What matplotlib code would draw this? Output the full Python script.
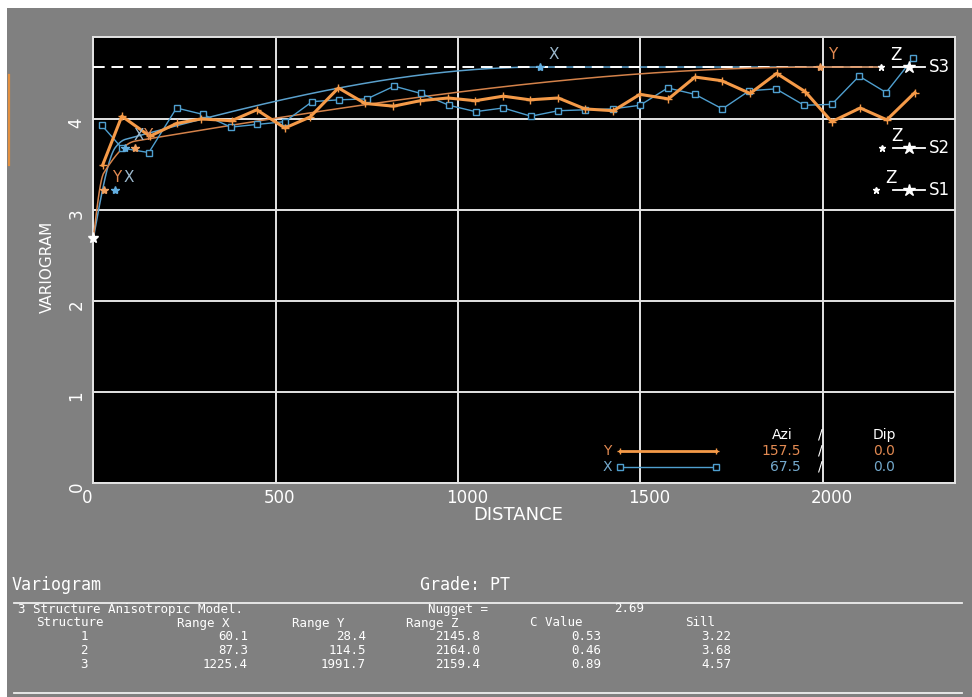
import numpy as np
import matplotlib
matplotlib.use("Agg")
import matplotlib.pyplot as plt
import matplotlib.transforms as mtransforms
from matplotlib.lines import Line2D
from matplotlib.patches import Rectangle

# ---- experimental variogram, direction Y (azimuth 157.5, dip 0.0)
lag_y = [25, 78, 155, 228, 295, 379, 448, 525, 594, 672, 745, 823, 896, 973,
         1047, 1124, 1197, 1275, 1348, 1426, 1499, 1577, 1650, 1723, 1801,
         1874, 1952, 2025, 2103, 2176, 2253]
gamma_y = [3.49, 4.03, 3.81, 3.95, 4.00, 3.98, 4.10, 3.90, 4.02, 4.34, 4.17,
           4.14, 4.20, 4.23, 4.20, 4.25, 4.21, 4.23, 4.11, 4.09, 4.27, 4.22,
           4.46, 4.42, 4.28, 4.50, 4.30, 3.97, 4.12, 3.99, 4.29]

# ---- experimental variogram, direction X (azimuth 67.5, dip 0.0)
lag_x = [23, 78, 152, 228, 300, 377, 450, 525, 600, 674, 750, 825, 898, 975,
         1048, 1124, 1200, 1275, 1348, 1424, 1499, 1575, 1650, 1725, 1799,
         1872, 1949, 2025, 2100, 2174, 2249]
gamma_x = [3.93, 3.68, 3.63, 4.12, 4.05, 3.91, 3.94, 3.97, 4.19, 4.21, 4.22,
           4.36, 4.28, 4.15, 4.08, 4.12, 4.03, 4.09, 4.10, 4.11, 4.15, 4.34,
           4.27, 4.11, 4.31, 4.33, 4.15, 4.16, 4.47, 4.29, 4.67]

# ---- 3 structure anisotropic spherical model
nugget = 2.69
structures = [1, 2, 3]
range_x = [60.1, 87.3, 1225.4]
range_y = [28.4, 114.5, 1991.7]
range_z = [2145.8, 2164.0, 2159.4]
c_value = [0.53, 0.46, 0.89]
sill = [3.22, 3.68, 4.57]

directions = ["Y", "X"]
azimuth = [157.5, 67.5]
dip = [0.0, 0.0]

x_ticks = [0, 500, 1000, 1500, 2000]
y_ticks = [0, 1, 2, 3, 4]

# ---- styling
W, H = 972, 697
GRAY = "#808080"
GRID = "#e4e4e4"
ORANGE = "#f59a48"
ORANGE_MODEL = "#d4824a"
ORANGE_TXT = "#e28a52"
BLUE = "#4f9fcf"
BLUE_MODEL = "#5aa0cc"
BLUE_TXT = "#74a9cc"
FONT = "DejaVu Sans"
MONO = "DejaVu Sans Mono"


def fx(px):
    return px / W


def fy(py):
    return 1 - py / H


def spherical(h, a):
    r = np.clip(np.asarray(h, dtype=float) / a, 0, 1)
    return 1.5 * r - 0.5 * r ** 3


def model(h, ranges):
    g = np.full_like(np.asarray(h, dtype=float), nugget)
    for c, a in zip(c_value, ranges):
        g = g + c * spherical(h, a)
    return g


fig = plt.figure(figsize=(W / 100, H / 100), dpi=100, facecolor="white")
fig.add_artist(Rectangle((fx(7), 0), 1 - fx(7), fy(8), transform=fig.transFigure,
                         facecolor=GRAY, edgecolor="none", zorder=-10))
fig.add_artist(Line2D([fx(9), fx(9)], [fy(75), fy(165)], color="#e39040", lw=1.6))

ax = fig.add_axes([fx(93.4), fy(483), fx(955 - 93.4), (483 - 37) / H])
ax.set_facecolor("black")
ax.set_xlim(0, 2363)
ax.set_ylim(0, 4.90)
ax.set_xticks(x_ticks)
ax.set_yticks(y_ticks)
ax.set_xticklabels([])
ax.set_yticklabels([])
ax.tick_params(length=0)
ax.grid(True, color=GRID, lw=1.4)
ax.set_axisbelow(True)
for sp in ax.spines.values():
    sp.set_color(GRID)
    sp.set_linewidth(1.4)

# tick labels
for t in x_ticks:
    tr = mtransforms.blended_transform_factory(ax.transData, ax.transAxes)
    tr = mtransforms.offset_copy(tr, fig=fig, x=-12, y=-15, units="dots")
    ax.text(t, 0, str(t), transform=tr, ha="left", va="center",
            color="white", fontsize=12, family=FONT, clip_on=False)
for t in y_ticks:
    tr = mtransforms.blended_transform_factory(ax.transAxes, ax.transData)
    tr = mtransforms.offset_copy(tr, fig=fig, x=-17, y=-4, units="dots")
    ax.text(0, t, str(t), transform=tr, ha="center", va="center", rotation=90,
            color="white", fontsize=12, family=FONT, clip_on=False)

fig.text(fx(518), fy(515), "DISTANCE", ha="center", va="center",
         color="white", fontsize=13, family=FONT)
fig.text(fx(47), fy(267), "VARIOGRAM", ha="center", va="center", rotation=90,
         color="white", fontsize=11, family=FONT)

# model curves
h = np.linspace(0, max(range_z), 800)
ax.plot(h, model(h, range_x), color=BLUE_MODEL, lw=1.1, zorder=2)
ax.axhline(sill[-1], xmax=0.905, color="white", lw=1.4, dashes=(6, 3.5), zorder=3)
ax.plot(h, model(h, range_y), color=ORANGE_MODEL, lw=1.1, zorder=4)

# experimental variograms
ax.plot(lag_x, gamma_x, color=BLUE, lw=1.0, marker="s", ms=5, mfc="black",
        mec=BLUE, mew=1.0, zorder=5)
ax.plot(lag_y, gamma_y, color=ORANGE, lw=2.2, marker="+", ms=6, mew=1.0,
        zorder=6)

# range markers of each structure
for ranges, col, lab, lcol in [(range_y, "#f0a060", "Y", ORANGE_TXT),
                               (range_x, "#62aee0", "X", "#9cb8cc")]:
    ax.plot(ranges, sill, ls="none", marker="*", ms=6, color=col, zorder=7)
    for a, s in zip(ranges, sill):
        ax.annotate(lab, (a, s), xytext=(8, 5), textcoords="offset pixels",
                    color=lcol, fontsize=11, family=FONT, ha="left",
                    va="bottom", zorder=8)

# nugget
ax.plot([0], [nugget], marker="*", ms=8, color="white", ls="none", zorder=8,
        clip_on=False)

# vertical (Z) ranges with the structure keys at the right edge
ax.plot(range_z, sill, ls="none", marker="*", ms=5, color="white", zorder=8)
key = mtransforms.blended_transform_factory(ax.transAxes, ax.transData)
x0 = (893 - 93.4) / (955 - 93.4)
x1 = (925 - 93.4) / (955 - 93.4)
xm = (909 - 93.4) / (955 - 93.4)
xt = (929 - 93.4) / (955 - 93.4)
for i, s in enumerate(sill):
    ax.plot([x0, x1], [s, s], transform=key, color="white", lw=1.3, zorder=8)
    ax.plot([xm], [s], transform=key, marker="*", ms=9, color="white", zorder=9)
    ax.text(xt, s, f"S{structures[i]}", transform=key, color="white",
            fontsize=12, family=FONT, ha="left", va="center", zorder=9)
    ax.annotate("Z", (range_z[i], s), xytext=(9, 3), textcoords="offset pixels",
                color="white", fontsize=12, family=FONT, ha="left",
                va="bottom", zorder=9)

# direction key
KS = 10
fig.text(fx(782), fy(435), "Azi", color="white", fontsize=KS, family=FONT,
         ha="center", va="center")
fig.text(fx(884), fy(435), "Dip", color="white", fontsize=KS, family=FONT,
         ha="center", va="center")
for row_y in (435, 451, 467):
    fig.text(fx(820), fy(row_y), "/", color="white", fontsize=KS,
             family=FONT, ha="center", va="center")
key_rows = [(451, ORANGE, ORANGE_TXT, "+"), (467, BLUE, BLUE_TXT, "s")]
for (row_y, lcol, tcol, mk), d, az, dp in zip(key_rows, directions, azimuth, dip):
    fig.text(fx(607), fy(row_y), d, color=tcol, fontsize=KS, family=FONT,
             ha="center", va="center")
    fig.add_artist(Line2D([fx(620), fx(716)], [fy(row_y)] * 2, color=lcol,
                          lw=2.0 if mk == "+" else 1.0, marker=mk, ms=5,
                          mfc="black", mec=lcol))
    fig.text(fx(801), fy(row_y), f"{az:.1f}", color=tcol, fontsize=KS,
             family=FONT, ha="right", va="center")
    fig.text(fx(884), fy(row_y), f"{dp:.1f}", color=tcol, fontsize=KS,
             family=FONT, ha="center", va="center")

# ---- model summary table
TS = 9
fig.text(fx(12), fy(585), "Variogram", color="white", fontsize=12,
         family=MONO, ha="left", va="center")
fig.text(fx(465), fy(585), "Grade: PT", color="white", fontsize=12,
         family=MONO, ha="center", va="center")
fig.add_artist(Line2D([fx(14), fx(962)], [fy(603)] * 2, color="#eeeeee", lw=1.3))
fig.add_artist(Line2D([fx(14), fx(962)], [fy(693)] * 2, color="#eeeeee", lw=1.3))

row_y = [609, 623, 637, 651, 665]
fig.text(fx(18), fy(row_y[0]), f"{len(structures)} Structure Anisotropic Model.",
         color="white", fontsize=TS, family=MONO, ha="left", va="center")
fig.text(fx(428), fy(row_y[0]), "Nugget =", color="white", fontsize=TS,
         family=MONO, ha="left", va="center")
fig.text(fx(614), fy(row_y[0]), f"{nugget:.2f}", color="white", fontsize=TS,
         family=MONO, ha="left", va="center")

headers = ["Structure", "Range X", "Range Y", "Range Z", "C Value", "Sill"]
head_x = [70, 203, 318, 432, 556, 700]
for txt, px in zip(headers, head_x):
    fig.text(fx(px), fy(row_y[1]), txt, color="white", fontsize=TS,
             family=MONO, ha="center", va="center")

col_right = [248, 366, 480, 601, 731]
for i, s in enumerate(structures):
    py = row_y[2 + i]
    fig.text(fx(84), fy(py), str(s), color="white", fontsize=TS, family=MONO,
             ha="center", va="center")
    vals = [f"{range_x[i]:.1f}", f"{range_y[i]:.1f}", f"{range_z[i]:.1f}",
            f"{c_value[i]:.2f}", f"{sill[i]:.2f}"]
    for v, px in zip(vals, col_right):
        fig.text(fx(px), fy(py), v, color="white", fontsize=TS, family=MONO,
                 ha="right", va="center")

fig.savefig("out.png", dpi=100, facecolor=fig.get_facecolor())
